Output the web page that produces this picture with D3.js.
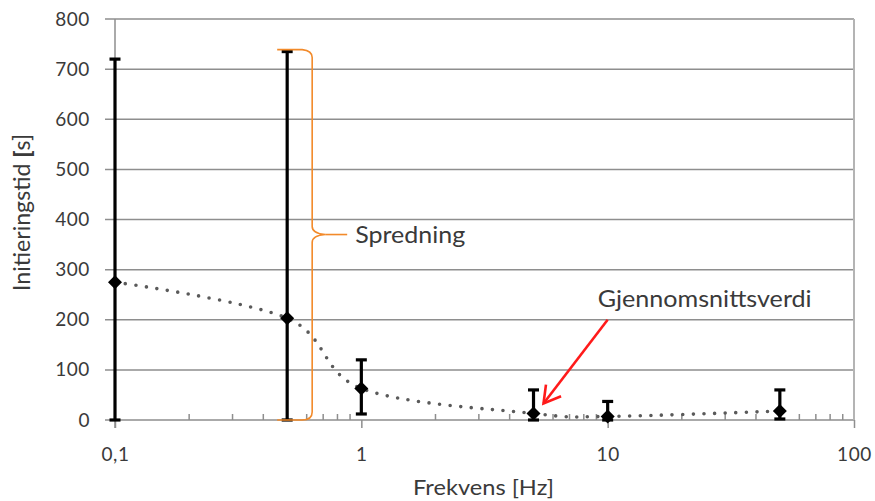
<!DOCTYPE html>
<html>
<head>
<meta charset="utf-8">
<script src="https://cdn.jsdelivr.net/npm/d3@7"></script>
<style>
  html, body { margin: 0; padding: 0; background: #fff; }
  svg { display: block; font-family: Lato, "Open Sans", sans-serif; }
</style>
</head>
<body>
<svg id="chart" width="875" height="501"></svg>
<script>
// Frequency (Hz) of each test series
const frequencies = [0.1, 0.5, 1, 5, 10, 50];
// Mean initiation time (s)
const meanTimes = [275, 203, 63, 13, 7, 18];
// Spread: lowest and highest observed initiation time (s)
const minTimes = [0, 0, 12, 0, 0, 2];
const maxTimes = [720, 735, 120, 60, 37, 60];

const yTickValues = [0, 100, 200, 300, 400, 500, 600, 700, 800];
const xTickValues = [0.1, 1, 10, 100];
const xMinorValues = [0.2, 0.3, 0.4, 0.5, 0.6, 0.7, 0.8, 0.9,
                      2, 3, 4, 5, 6, 7, 8, 9,
                      20, 30, 40, 50, 60, 70, 80, 90];

const xTitle = "Frekvens [Hz]";
const spreadLabel = "Spredning";
const meanLabel = "Gjennomsnittsverdi";

const svg = d3.select("#chart");

const x = d3.scaleLog().domain([0.1, 100]).range([115, 854]);
const y = d3.scaleLinear().domain([0, 800]).range([420, 19]);

const points = frequencies.map((f, i) => ({
  f, mean: meanTimes[i], lo: minTimes[i], hi: maxTimes[i]
}));

const gridColor = "#8e8e8e";
const textColor = "#3a3a3a";

// Horizontal gridlines (with short outside tick marks on the left)
svg.append("g").selectAll("line").data(yTickValues).join("line")
  .attr("x1", 105).attr("x2", x.range()[1])
  .attr("y1", d => y(d)).attr("y2", d => y(d))
  .attr("stroke", gridColor).attr("stroke-width", 1.5);

// Right border of the plot area
svg.append("line")
  .attr("x1", x.range()[1]).attr("x2", x.range()[1])
  .attr("y1", y(800)).attr("y2", y(0))
  .attr("stroke", "#b4b4b4").attr("stroke-width", 2);

// Y axis labels
const locale = d3.formatLocale({decimal: ",", thousands: " ", grouping: [3], currency: ["", " kr"]});
const yAxis = d3.axisLeft(y).tickValues(yTickValues).tickSize(0).tickPadding(25);
const gy = svg.append("g").attr("transform", `translate(${x.range()[0]},0)`).call(yAxis);
gy.select(".domain").remove();
gy.selectAll("text").attr("fill", textColor)
  .style("font-size", "19px").style("font-family", "Lato, sans-serif")
  .attr("letter-spacing", "0.6");

// Y axis line (extends below as the major tick for 0,1)
svg.append("line")
  .attr("x1", x.range()[0]).attr("x2", x.range()[0])
  .attr("y1", y(800)).attr("y2", y(0) + 8)
  .attr("stroke", gridColor).attr("stroke-width", 1.5);

// X axis: major ticks outside, labels
const xAxis = d3.axisBottom(x).tickValues(xTickValues).tickSize(8).tickPadding(20)
  .tickFormat(locale.format("~g"));
const gx = svg.append("g").attr("transform", `translate(0,${y(0)})`).call(xAxis);
gx.select(".domain").remove();
gx.selectAll("line").attr("stroke", gridColor).attr("stroke-width", 1.5);
gx.selectAll("text").attr("fill", textColor)
  .style("font-size", "19px").style("font-family", "Lato, sans-serif")
  .attr("letter-spacing", "0.6");

// X axis minor ticks pointing inward
svg.append("g").selectAll("line").data(xMinorValues).join("line")
  .attr("x1", d => x(d)).attr("x2", d => x(d))
  .attr("y1", y(0)).attr("y2", y(0) - 6)
  .attr("stroke", gridColor).attr("stroke-width", 1.5);

// Axis titles
const yTitleEl = svg.append("text")
  .attr("transform", "translate(30,212.5) rotate(-90)")
  .attr("text-anchor", "middle").attr("fill", textColor)
  .attr("textLength", 157).attr("lengthAdjust", "spacingAndGlyphs")
  .style("font-size", "23px");
yTitleEl.append("tspan").text("Initieringstid ");
yTitleEl.append("tspan").attr("font-weight", "900").text("[");
yTitleEl.append("tspan").text("s]");

svg.append("text")
  .attr("x", 483.5).attr("y", 495)
  .attr("text-anchor", "middle").attr("fill", textColor)
  .attr("textLength", 141).attr("lengthAdjust", "spacingAndGlyphs")
  .style("font-size", "22px")
  .text(xTitle);

// Smoothed dotted line through the mean values
const line = d3.line()
  .x(d => x(d.f)).y(d => y(d.mean))
  .curve(d3.curveCardinal.tension(0));
svg.append("path").datum(points)
  .attr("d", line)
  .attr("fill", "none")
  .attr("stroke", "#5a5a5a")
  .attr("stroke-width", 3.6)
  .attr("stroke-linecap", "round")
  .attr("stroke-dasharray", "0 10.6");

// Error bars (spread)
const capHalf = 5.5;
const eb = svg.append("g").selectAll("g").data(points).join("g");
eb.append("line")
  .attr("x1", d => x(d.f)).attr("x2", d => x(d.f))
  .attr("y1", d => y(d.lo)).attr("y2", d => y(d.hi))
  .attr("stroke", "#000").attr("stroke-width", 3.2);
eb.append("line")
  .attr("x1", d => x(d.f) - capHalf).attr("x2", d => x(d.f) + capHalf)
  .attr("y1", d => y(d.hi)).attr("y2", d => y(d.hi))
  .attr("stroke", "#000").attr("stroke-width", 3.2);
eb.append("line")
  .attr("x1", d => x(d.f) - capHalf).attr("x2", d => x(d.f) + capHalf)
  .attr("y1", d => y(d.lo)).attr("y2", d => y(d.lo))
  .attr("stroke", "#000").attr("stroke-width", 3.2);

// Diamond markers for the mean
svg.append("g").selectAll("path").data(points).join("path")
  .attr("d", d3.symbol().type(d3.symbolSquare).size(98))
  .attr("transform", d => `translate(${x(d.f)},${y(d.mean)}) rotate(45)`)
  .attr("fill", "#000");

// Orange brace marking the spread of the 0,5 Hz series
const bracePoint = points[1];
const bx0 = x(bracePoint.f) - 10;          // brace ends (left)
const bx1 = x(bracePoint.f) + 25;          // brace spine
const byTop = y(bracePoint.hi) - 2;
const byBot = y(bracePoint.lo);
const byMid = y(370);
const braceTip = bx1 + 13;
const bracePath = d3.path();
bracePath.moveTo(bx0, byTop);
bracePath.lineTo(bx1 - 10, byTop);
bracePath.quadraticCurveTo(bx1, byTop + 1, bx1, byTop + 8);
bracePath.lineTo(bx1, byMid - 8);
bracePath.quadraticCurveTo(bx1, byMid - 1, braceTip, byMid);
bracePath.quadraticCurveTo(bx1, byMid + 1, bx1, byMid + 8);
bracePath.lineTo(bx1, byBot - 8);
bracePath.quadraticCurveTo(bx1, byBot, bx1 - 10, byBot);
bracePath.lineTo(bx0, byBot);
svg.append("path").attr("d", bracePath.toString())
  .attr("fill", "none").attr("stroke", "#f28a2a").attr("stroke-width", 1.6);
svg.append("line")
  .attr("x1", braceTip).attr("x2", braceTip + 22)
  .attr("y1", byMid).attr("y2", byMid)
  .attr("stroke", "#f28a2a").attr("stroke-width", 1.6);
svg.append("text")
  .attr("x", braceTip + 30).attr("y", byMid + 8)
  .attr("fill", textColor).style("font-size", "24px")
  .attr("textLength", 110).attr("lengthAdjust", "spacingAndGlyphs")
  .text(spreadLabel);

// Red arrow pointing at the mean of the 5 Hz series
const target = points[3];
const tipX = x(target.f) + 10, tipY = y(target.mean) - 10;
const startX = x(10), startY = y(200);
svg.append("line")
  .attr("x1", startX).attr("x2", tipX)
  .attr("y1", startY).attr("y2", tipY)
  .attr("stroke", "#ff1a1a").attr("stroke-width", 2.6);
const ang = Math.atan2(startY - tipY, startX - tipX);
const armLen = 19, spread = Math.PI / 6;
const arrowHead = d3.path();
arrowHead.moveTo(tipX + armLen * Math.cos(ang - spread), tipY + armLen * Math.sin(ang - spread));
arrowHead.lineTo(tipX, tipY);
arrowHead.lineTo(tipX + armLen * Math.cos(ang + spread), tipY + armLen * Math.sin(ang + spread));
svg.append("path").attr("d", arrowHead.toString())
  .attr("fill", "none").attr("stroke", "#ff1a1a").attr("stroke-width", 2.6)
  .attr("stroke-linejoin", "miter");
svg.append("text")
  .attr("x", startX - 10).attr("y", startY - 13)
  .attr("fill", textColor).style("font-size", "24px")
  .attr("textLength", 214).attr("lengthAdjust", "spacingAndGlyphs")
  .text(meanLabel);
</script>
</body>
</html>
